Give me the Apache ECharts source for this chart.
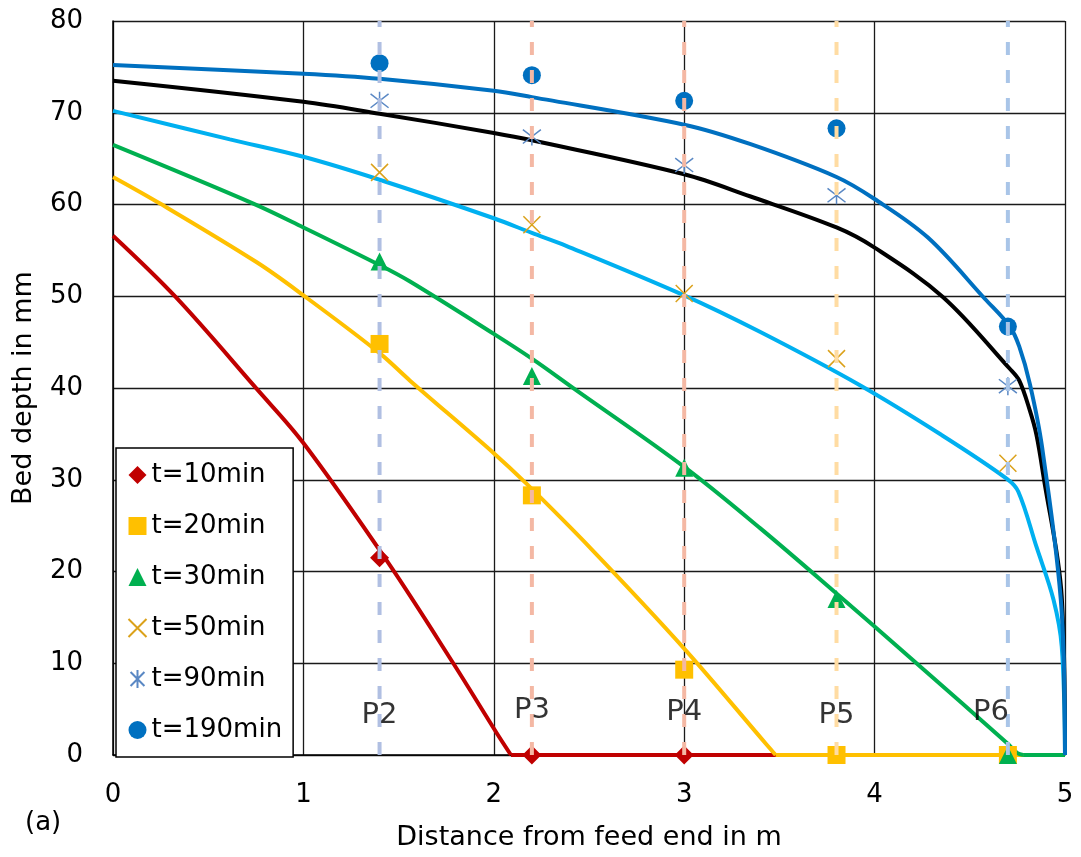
<!DOCTYPE html>
<html>
<head>
<meta charset="utf-8">
<script src="https://cdn.jsdelivr.net/npm/echarts@6/dist/echarts.min.js"></script>
<style>
    html, body { margin: 0; padding: 0; background: #fff; }
    #chart { width: 1081px; height: 857px; }
</style>
</head>
<body>
<div id="chart"></div>
<script>
// simulated bed depth profiles (x in m, depth in mm)
const curve10 = [[0, 56.6], [0.33, 49.9], [0.755, 39.9], [1.0, 34.0], [1.437, 21.2], [1.787, 10.0], [2.015, 2.4], [2.09, 0]]
const curve20 = [[0, 63.0], [0.247, 60.1], [0.755, 53.7], [1.0, 50.1], [1.4, 43.8], [1.56, 40.8], [2.0, 32.9], [2.17, 29.6], [2.51, 22.5], [3.0, 11.6], [3.43, 1.2], [3.48, 0]]
const curve30 = [[0, 66.5], [0.737, 60.1], [1.0, 57.5], [1.4, 53.4], [1.56, 51.6], [2.0, 45.9], [2.2, 43.2], [2.41, 40.1], [3.0, 31.4], [3.4, 24.7], [3.8, 17.6], [4.22, 10.0], [4.695, 1.3], [4.75, 0.2], [4.78, 0]]
const curve50 = [[0, 70.2], [0.614, 67.1], [1.0, 65.2], [1.4, 62.7], [2.0, 58.5], [2.2, 56.9], [2.38, 55.5], [3.0, 50.1], [3.4, 46.1], [3.923, 40.3], [4.35, 34.9], [4.695, 30.1], [4.755, 28.7], [4.85, 22.7], [4.94, 16.9], [4.983, 11.8], [5, 0]]
const curve90 = [[0, 73.5], [1.0, 71.2], [1.4, 69.9], [2.0, 67.8], [2.2, 67.0], [3.0, 63.3], [3.345, 60.9], [3.8, 57.5], [4.0, 55.3], [4.36, 49.9], [4.71, 42.1], [4.76, 40.8], [4.816, 37.5], [4.85, 34.9], [4.886, 30.5], [4.983, 17.2], [5, 0]]
const curve190 = [[0, 75.2], [1.0, 74.25], [1.4, 73.7], [2.0, 72.4], [2.2, 71.7], [3.0, 68.7], [3.345, 66.6], [3.8, 63.0], [4.0, 60.6], [4.28, 56.4], [4.58, 49.7], [4.71, 46.7], [4.76, 44.5], [4.816, 40.4], [4.88, 33.5], [4.983, 15.5], [5, 0]]

// empty bed (depth 0) from where each profile lands to the discharge end
const tail10 = [[2.09, 0], [5, 0]]
const tail20 = [[3.48, 0], [5, 0]]
const tail30 = [[4.78, 0], [5, 0]]

// measured points
const meas10 = [[1.4, 21.5], [2.2, 0], [3.0, 0]]
const meas20 = [[1.4, 44.8], [2.2, 28.3], [3.0, 9.3], [3.8, 0], [4.7, 0]]
const meas30 = [[1.4, 53.8], [2.2, 41.3], [3.0, 31.3], [3.8, 17.0], [4.7, 0]]
const meas50 = [[1.4, 63.5], [2.2, 57.8], [3.0, 50.3], [3.8, 43.2], [4.7, 31.8]]
const meas90 = [[1.4, 71.3], [2.2, 67.4], [3.0, 64.3], [3.8, 61.0], [4.7, 40.2]]
const meas190 = [[1.4, 75.4], [2.2, 74.1], [3.0, 71.3], [3.8, 68.3], [4.7, 46.7]]

// probe positions
const probeX = [1.4, 2.2, 3.0, 3.8, 4.7]
const probeNames = ['P2', 'P3', 'P4', 'P5', 'P6']
const probeLabelY = [4.3, 4.9, 4.6, 4.3, 4.6]
const probeColors = ['#b0bfe2', '#f4b8a4', '#f4b8a4', '#ffdca3', '#a9c5e8']

const legendNames = ['t=10min', 't=20min', 't=30min', 't=50min', 't=90min', 't=190min']

const FONT = 'DejaVu Sans'
const SMOOTH = 0.35
const crossPath = 'path://M0,0L10,10M10,0L0,10'
const starPath = 'path://M0,0L10,10M10,0L0,10M5,-1.5L5,11.5'

const curveLine = (data, color, smooth) => ({
    type: 'line',
    data: data,
    showSymbol: false,
    smooth: smooth,
    clip: false,
    silent: true,
    z: 2,
    lineStyle: { color: color, width: 4 },
})

const marker = (name, data, symbol, size, style) => ({
    name: name,
    type: 'scatter',
    data: data,
    symbol: symbol,
    symbolSize: size,
    clip: false,
    z: 3,
    itemStyle: Object.assign({ opacity: 1 }, style),
})

const series = [
    curveLine(curve10, '#c00000', SMOOTH),
    curveLine(tail10, '#c00000', false),
    curveLine(curve20, '#ffc000', SMOOTH),
    curveLine(tail20, '#ffc000', false),
    curveLine(curve30, '#00b050', SMOOTH),
    curveLine(tail30, '#00b050', false),
    curveLine(curve50, '#00b0f0', SMOOTH),
    curveLine(curve90, '#000000', SMOOTH),
    curveLine(curve190, '#0070c0', SMOOTH),
    marker(legendNames[0], meas10, 'diamond', 19, { color: '#c00000' }),
    marker(legendNames[1], meas20, 'rect', 18, { color: '#ffc000' }),
    marker(legendNames[2], meas30, 'triangle', 18, { color: '#00b050' }),
    marker(legendNames[3], meas50, crossPath, 17, { color: 'none', borderColor: '#dba11a', borderWidth: 1.5 }),
    marker(legendNames[4], meas90, starPath, 18, { color: 'none', borderColor: '#5a88c4', borderWidth: 1.5 }),
    marker(legendNames[5], meas190, 'circle', 18, { color: '#0070c0' }),
]

probeX.forEach((x, i) => {
    series.push({
        type: 'line',
        data: [[x, 0], [x, 80]],
        showSymbol: false,
        silent: true,
        z: 4,
        lineStyle: { color: probeColors[i], width: 4, type: [13, 15] },
    })
})

const probeLabels = probeX.map((x, i) => ({ value: [x, probeLabelY[i], probeNames[i]] }))
// P6 label sits left of its line
probeLabels[4].label = { offset: [-17, 0] }

series.push({
    type: 'scatter',
    data: probeLabels,
    symbolSize: 0,
    silent: true,
    z: 5,
    label: {
        show: true,
        position: 'inside',
        formatter: p => p.value[2],
        color: '#000',
        fontFamily: FONT,
        fontSize: 29,
    },
})

const chart = echarts.init(document.getElementById('chart'), null, { renderer: 'canvas' })
chart.setOption({
    animation: false,
    backgroundColor: '#fff',
    textStyle: { fontFamily: FONT },
    grid: { left: 113, right: 16, top: 21, bottom: 102 },
    xAxis: {
        type: 'value',
        min: 0,
        max: 5,
        interval: 1,
        name: 'Distance from feed end in m',
        nameLocation: 'middle',
        nameGap: 69,
        nameTextStyle: { fontFamily: FONT, fontSize: 27, color: '#000' },
        axisLine: { show: true, onZero: false, lineStyle: { color: '#000', width: 1.5 } },
        axisTick: { show: false },
        axisLabel: { margin: 27, fontFamily: FONT, fontSize: 26, color: '#000' },
        splitLine: { show: true, lineStyle: { color: '#1a1a1a', width: 1.3 } },
    },
    yAxis: {
        type: 'value',
        min: 0,
        max: 80,
        interval: 10,
        name: 'Bed depth in mm',
        nameLocation: 'middle',
        nameGap: 76,
        nameTextStyle: { fontFamily: FONT, fontSize: 27, color: '#000' },
        axisLine: { show: true, lineStyle: { color: '#000', width: 1.5 } },
        axisTick: { show: false },
        axisLabel: { margin: 30, fontFamily: FONT, fontSize: 26, color: '#000' },
        splitLine: { show: true, lineStyle: { color: '#1a1a1a', width: 1.3 } },
    },
    legend: {
        data: legendNames,
        orient: 'vertical',
        left: 116,
        top: 448,
        padding: [14, 11, 14, 10],
        itemGap: 25,
        itemWidth: 18,
        itemHeight: 18,
        selectedMode: false,
        backgroundColor: '#fff',
        borderColor: '#000',
        borderWidth: 1.5,
        borderRadius: 0,
        textStyle: { fontFamily: FONT, fontSize: 26, color: '#000' },
    },
    graphic: [
        {
            type: 'text',
            left: 25,
            top: 810,
            style: { text: '(a)', fontFamily: FONT, fontSize: 26, fill: '#000' },
        },
    ],
    series: series,
})
</script>
</body>
</html>
